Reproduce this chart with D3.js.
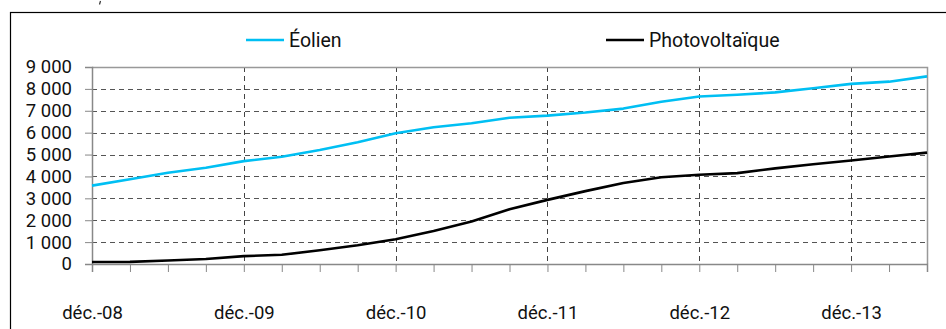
<!DOCTYPE html>
<html>
<head>
<meta charset="utf-8">
<script src="https://cdn.jsdelivr.net/npm/d3@7"></script>
<style>
  html, body { margin: 0; padding: 0; background: #fff; }
  svg { display: block; }
  text { font-family: Roboto, "Noto Sans", sans-serif; fill: #111; }
</style>
</head>
<body>
<svg id="chart" width="946" height="329"></svg>
<script>
// Quarterly categories, Dec 2008 – Jun 2014
const categories = [
  "déc.-08", "mars-09", "juin-09", "sept.-09",
  "déc.-09", "mars-10", "juin-10", "sept.-10",
  "déc.-10", "mars-11", "juin-11", "sept.-11",
  "déc.-11", "mars-12", "juin-12", "sept.-12",
  "déc.-12", "mars-13", "juin-13", "sept.-13",
  "déc.-13", "mars-14", "juin-14"
];

// Installed capacity (MW)
const eolien = [
  3580, 3870, 4170, 4400, 4700, 4900, 5210, 5560,
  5970, 6250, 6430, 6680, 6780, 6920, 7100, 7410,
  7650, 7730, 7840, 8030, 8230, 8330, 8570
];
const photovoltaique = [
  90, 95, 160, 230, 360, 420, 630, 860,
  1130, 1510, 1940, 2500, 2930, 3330, 3700, 3960,
  4080, 4150, 4370, 4560, 4730, 4910, 5090
];

const yTicks = [0, 1000, 2000, 3000, 4000, 5000, 6000, 7000, 8000, 9000];
const series = [
  { name: "Éolien", values: eolien, color: "#00BFF3" },
  { name: "Photovoltaïque", values: photovoltaique, color: "#000000" }
];

const svg = d3.select("#chart");
const plot = { left: 92, right: 927, top: 67, bottom: 264 };

const x = d3.scalePoint().domain(categories).range([plot.left, plot.right]).padding(0);
const y = d3.scaleLinear().domain([0, 9000]).range([plot.bottom, plot.top]);

const fr = d3.formatLocale({ decimal: ",", thousands: "\u00a0", grouping: [3], currency: ["", " €"] });
const fmt = fr.format(",");

// Outer frame
svg.append("rect")
  .attr("x", 10.5).attr("y", 12.5)
  .attr("width", 960).attr("height", 340)
  .attr("fill", "none").attr("stroke", "#000").attr("stroke-width", 1.2);

// Small stroke left over from the heading above the frame
svg.append("path")
  .attr("d", "M100.5,1 L99.5,4.5")
  .attr("stroke", "#333").attr("stroke-width", 1.2).attr("fill", "none");

// Horizontal dashed gridlines
svg.append("g").selectAll("line")
  .data(yTicks.filter(v => v > 0 && v < 9000))
  .join("line")
  .attr("x1", plot.left).attr("x2", plot.right)
  .attr("y1", d => Math.round(y(d)) + 0.5).attr("y2", d => Math.round(y(d)) + 0.5)
  .attr("stroke", "#555").attr("stroke-width", 1).attr("stroke-dasharray", "5,4");

// Vertical dashed gridlines at each December
const yearCats = categories.filter((c, i) => i % 4 === 0);
svg.append("g").selectAll("line")
  .data(yearCats.slice(1))
  .join("line")
  .attr("x1", d => Math.round(x(d)) + 0.5).attr("x2", d => Math.round(x(d)) + 0.5)
  .attr("y1", plot.top).attr("y2", plot.bottom)
  .attr("stroke", "#444").attr("stroke-width", 1).attr("stroke-dasharray", "5,4");

// Plot border (top and right)
svg.append("path")
  .attr("d", `M${plot.left},${plot.top + 0.5}H${plot.right + 0.5}V${plot.bottom}`)
  .attr("fill", "none").attr("stroke", "#999").attr("stroke-width", 1.5);

// Y axis
const yAxis = svg.append("g")
  .attr("transform", `translate(${plot.left},0)`)
  .call(d3.axisLeft(y).tickValues(yTicks).tickSize(7).tickPadding(13).tickFormat(fmt));
yAxis.select(".domain").attr("stroke", "#888").attr("stroke-width", 1.5);
yAxis.selectAll(".tick line").attr("stroke", "#888");
yAxis.selectAll("text").attr("font-size", 18.5).attr("font-family", "Roboto, sans-serif").attr("fill", "#111");

// X axis
const xAxis = svg.append("g")
  .attr("transform", `translate(0,${plot.bottom})`)
  .call(d3.axisBottom(x).tickSize(8).tickPadding(34)
    .tickFormat((d, i) => (i % 4 === 0 ? d : "")));
xAxis.select(".domain").attr("stroke", "#888").attr("stroke-width", 1.5);
xAxis.selectAll(".tick line").attr("stroke", "#888");
xAxis.selectAll("text").attr("font-size", 18.5).attr("font-family", "Roboto, sans-serif").attr("fill", "#111");

// Series lines
const line = d3.line()
  .x((d, i) => x(categories[i]))
  .y(d => y(d));

svg.append("g").selectAll("path")
  .data(series)
  .join("path")
  .attr("d", d => line(d.values))
  .attr("fill", "none")
  .attr("stroke", d => d.color)
  .attr("stroke-width", 2.6)
  .attr("stroke-linejoin", "round");

// Legend
const legendPos = [246, 606];
const legend = svg.append("g").selectAll("g")
  .data(series)
  .join("g")
  .attr("transform", (d, i) => `translate(${legendPos[i]},40)`);
legend.append("line")
  .attr("x1", 0).attr("x2", 38).attr("y1", 0).attr("y2", 0)
  .attr("stroke", d => d.color).attr("stroke-width", 2.6);
legend.append("text")
  .attr("x", 43).attr("y", 0).attr("dy", "0.35em")
  .attr("font-size", 19.5)
  .text(d => d.name);
</script>
</body>
</html>
